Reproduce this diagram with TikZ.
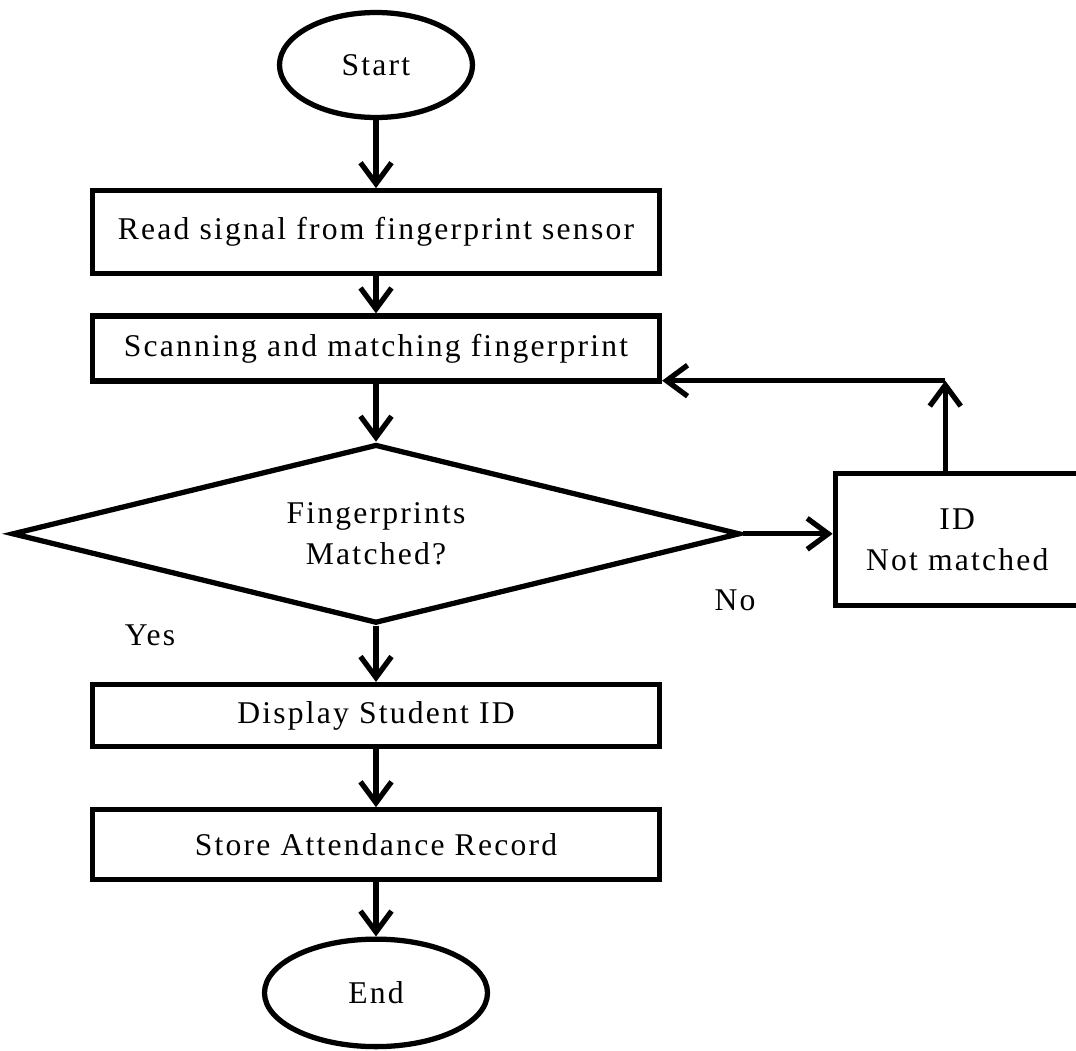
\documentclass[tikz,border=0pt]{standalone}
\usepackage{fontspec}
\setmainfont{Liberation Serif}[LetterSpace=7]
\usetikzlibrary{shapes.geometric, positioning, arrows.meta}
\tikzset{
  flow/.style={line width=3pt, -{Straight Barb[length=0.42cm,width=0.62cm]}},
  procbox/.style={draw, rectangle, line width=3pt, minimum width=11.34cm},
  term/.style={draw, ellipse, line width=3pt},
}

\begin{document}
\begin{tikzpicture}[font=\fontsize{18}{23}\selectfont]
    \useasboundingbox (0,0) rectangle (21.52,-21.02);

    \node[term, minimum width=3.86cm, minimum height=2.1cm]
      (Start) at (7.52,-1.3) {Start};
    \node[procbox, minimum height=1.66cm, below=1.36cm of Start]
      (Read) {Read signal from fingerprint sensor};
    \node[procbox, minimum height=1.3cm, below=0.74cm of Read]
      (Scan) {Scanning and matching fingerprint};
    \node[draw, diamond, aspect=4, inner sep=0pt, line width=3pt, minimum width=14.56cm,
      minimum height=3.58cm, align=center, below=1.16cm of Scan]
      (Match) {Fingerprints\\Matched?};
    \node[draw, rectangle, line width=3pt, minimum width=4.88cm, minimum height=2.64cm,
      align=center, right=1.8cm of Match, yshift=-0.12cm]
      (NoID) {ID\\Not matched};
    \node[procbox, minimum height=1.24cm, below=1.12cm of Match]
      (Disp) {Display Student ID};
    \node[procbox, minimum height=1.4cm, below=1.16cm of Disp]
      (Store) {Store Attendance Record};
    \node[term, minimum width=4.46cm, minimum height=2.15cm, below=1.08cm of Store]
      (End) {End};

    \node (No) at (14.7,-12.0) {No};
    \node (Yes) at (3.0,-12.7) {Yes};

    \path (NoID.north |- Scan.south) ++(-0.24,0.06) coordinate (Back);

    \draw[flow] (Start) -- (Read);
    \draw[flow] (Read) -- (Scan);
    \draw[flow] (Scan) -- (Match);
    \draw[flow] (Match.east) -- (NoID.west |- Match.east);
    \draw[flow] ([xshift=-0.24cm]NoID.north) -- (Back);
    \draw[flow] (Back) -- (Scan.east |- Back);
    \draw[flow] (Match) -- (Disp);
    \draw[flow] (Disp) -- (Store);
    \draw[flow] (Store) -- (End);
  \end{tikzpicture}
\end{document}
